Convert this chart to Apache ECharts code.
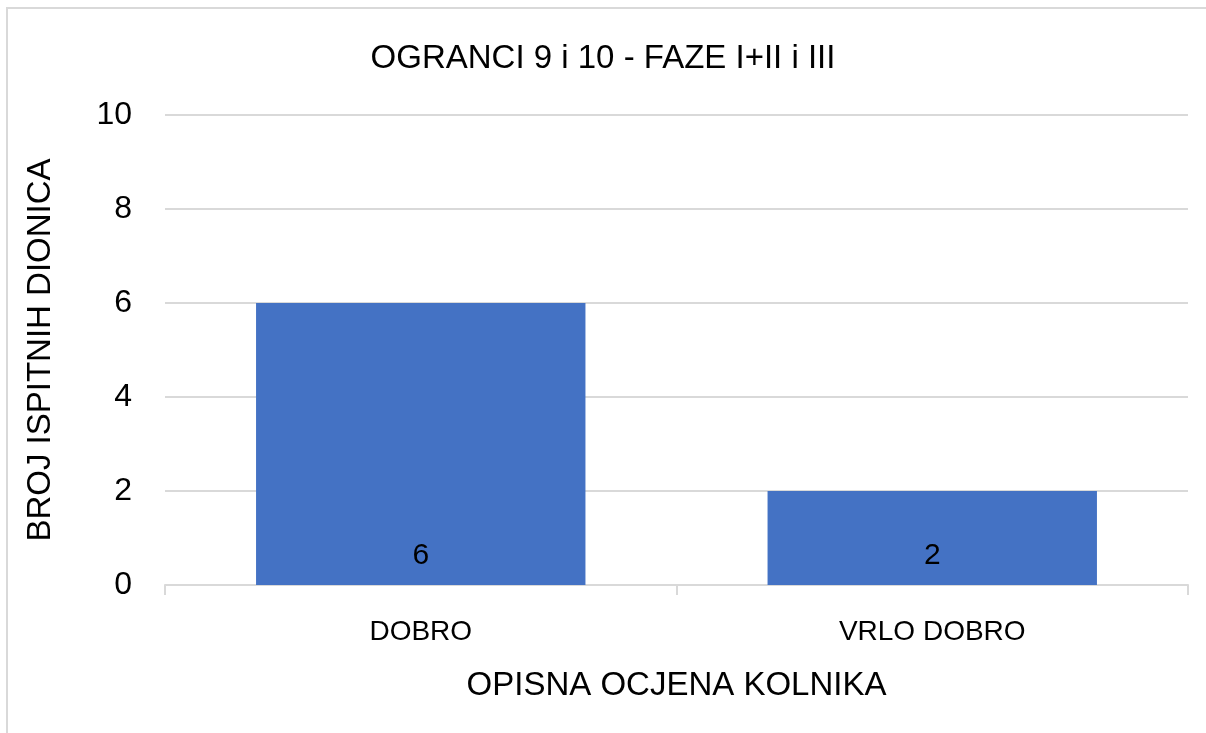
<!DOCTYPE html>
<html>
<head>
<meta charset="utf-8">
<script src="https://cdn.jsdelivr.net/npm/echarts@6/dist/echarts.min.js"></script>
<style>
html,body{margin:0;padding:0;background:#fff;}
#chart{width:1206px;height:733px;}
</style>
</head>
<body>
<div id="chart"></div>
<script>
const titleText = 'OGRANCI 9 i 10 - FAZE I+II i III';
const categories = ['DOBRO', 'VRLO DOBRO'];
const values = [6, 2];
const xAxisName = 'OPISNA OCJENA KOLNIKA';
const yAxisName = 'BROJ ISPITNIH DIONICA';

const FONT = "'Liberation Sans', Arial, sans-serif";
const chart = echarts.init(document.getElementById('chart'), null, {renderer: 'canvas'});
chart.setOption({
  backgroundColor: '#ffffff',
  animation: false,
  graphic: [{
    type: 'rect',
    shape: {x: 7, y: 8, width: 1260, height: 800},
    style: {fill: 'none', stroke: '#d9d9d9', lineWidth: 2},
    silent: true
  }],
  title: {
    text: titleText,
    left: 'center',
    top: 37,
    textStyle: {fontFamily: FONT, fontSize: 33, fontWeight: 'normal', color: '#000'}
  },
  grid: {left: 165, right: 18, top: 115, bottom: 148},
  xAxis: {
    type: 'category',
    data: categories,
    boundaryGap: true,
    name: xAxisName,
    nameLocation: 'middle',
    nameGap: 84,
    nameTextStyle: {fontFamily: FONT, fontSize: 33, color: '#000'},
    axisLine: {lineStyle: {color: '#d9d9d9', width: 2}},
    axisTick: {show: true, length: 10, lineStyle: {color: '#d9d9d9', width: 2}},
    axisLabel: {fontFamily: FONT, fontSize: 28, color: '#000', margin: 33}
  },
  yAxis: {
    type: 'value',
    min: 0,
    max: 10,
    interval: 2,
    name: yAxisName,
    nameLocation: 'middle',
    nameGap: 108,
    nameTextStyle: {fontFamily: FONT, fontSize: 33, color: '#000'},
    axisLine: {show: false},
    axisTick: {show: false},
    axisLabel: {fontFamily: FONT, fontSize: 32, color: '#000', margin: 33},
    splitLine: {lineStyle: {color: '#d9d9d9', width: 2}}
  },
  series: [{
    type: 'bar',
    data: values,
    barWidth: '64.4%',
    itemStyle: {color: '#4472c4'},
    label: {
      show: true,
      position: 'insideBottom',
      distance: 14,
      fontFamily: FONT,
      fontSize: 30,
      color: '#000'
    }
  }]
});
</script>
</body>
</html>
